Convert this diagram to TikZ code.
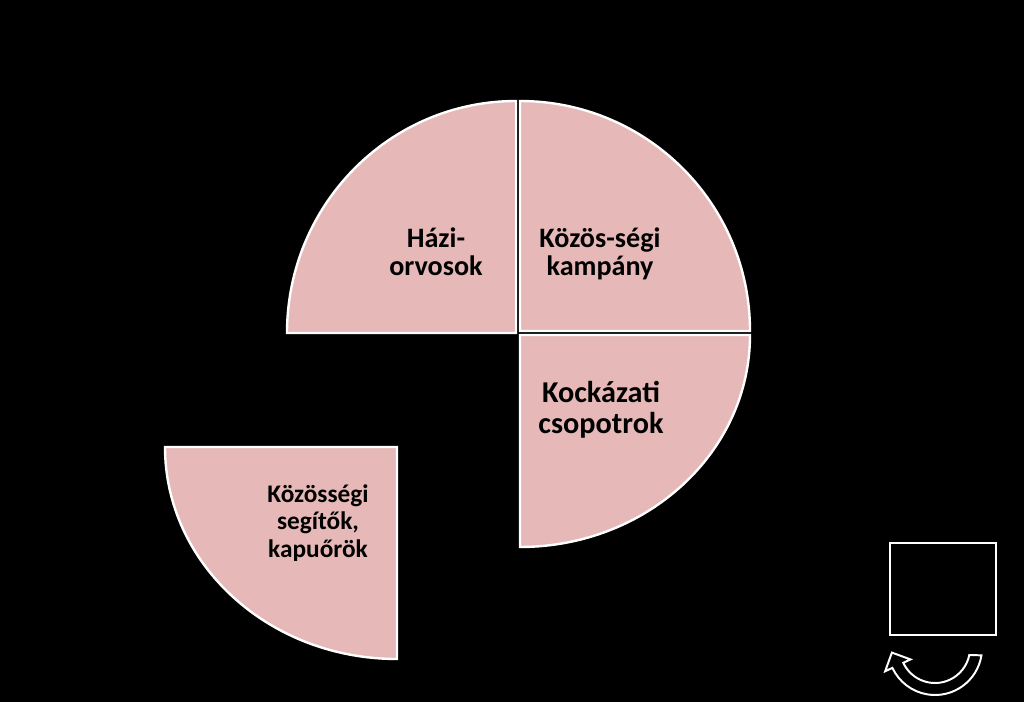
\documentclass[tikz,border=0pt]{standalone}
\usepackage{fontspec}
\setmainfont{Carlito}
\usepackage{tikz}
\definecolor{petal}{RGB}{230,185,184}
\tikzset{
  piece/.style={fill=petal,draw=white,line width=1.7pt,line join=miter},
  outline/.style={draw=white,line width=1.4pt,fill=black,line join=miter},
  txt/.style={align=center,inner sep=0pt,text=black,font=\bfseries\fontsize{20}{20}\selectfont}
}
\begin{document}
\begin{tikzpicture}[x=0.025cm,y=-0.025cm]
  \fill[black](0,0)rectangle(1024,702);
  \useasboundingbox (0,0) rectangle (1024,702);
  % the four quarters
  \draw[piece](516,333)--(287,333)arc[start angle=180,end angle=270,x radius=229,y radius=232]--cycle;
  \draw[piece](520,331)--(520,101)arc[start angle=270,end angle=360,radius=230]--cycle;
  \draw[piece](520,335)--(750,335)arc[start angle=0,end angle=90,x radius=230,y radius=212]--cycle;
  \draw[piece](397,447)--(397,659)arc[start angle=90,end angle=180,x radius=232,y radius=212]--cycle;
  \node[txt](haz)at(436,252){Házi-\\orvosok};
  \node[txt](kamp)at(600,254){Közös-ségi\\kampány};
  \node[txt,font=\bfseries\fontsize{21.5}{22}\selectfont](kock)at(601,410){Kockázati\\csopotrok};
  \node[txt,font=\bfseries\fontsize{18}{19.5}\selectfont](seg)at(318,523){Közösségi\\segítők,\\kapuőrök};
  % box and turning arrow
  \draw[outline](890,543)rectangle(996,635);
  \coordinate(turn)at(935,648);
  \draw[outline]([shift={(9:47)}]turn)arc[start angle=9,end angle=155,radius=47]
    --([shift={(155:55)}]turn)--(891.9,652.6)--([shift={(155:27)}]turn)
    --([shift={(155:35)}]turn)arc[start angle=155,end angle=11.5,radius=35]--cycle;
\end{tikzpicture}
\end{document}
